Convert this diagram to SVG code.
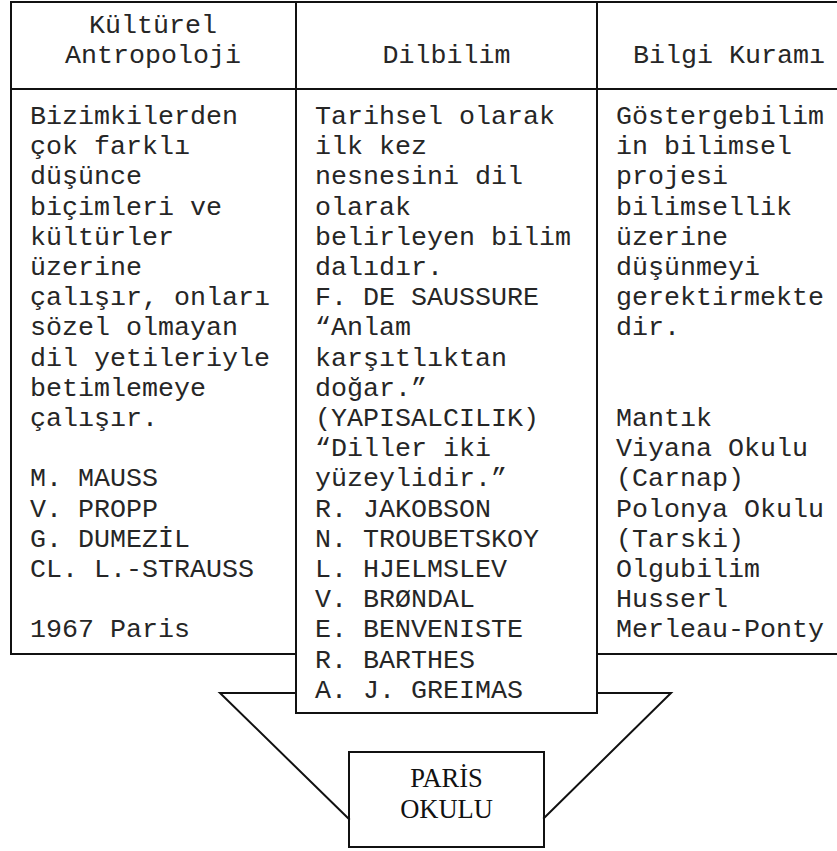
<svg xmlns="http://www.w3.org/2000/svg" width="837" height="851" viewBox="0 0 837 851">
<style>
.mono{font-family:"Liberation Mono","Courier New",monospace;font-size:26.67px;fill:#262626}
.serif{font-family:"Liberation Serif","Times New Roman",serif;font-size:26.5px;fill:#111}
.ln{stroke:#111;stroke-width:2;fill:none;stroke-linecap:square}
</style>
<rect width="837" height="851" fill="#fff"/>
<g id="connectors">
<polyline class="ln" points="296,693 220,693 349,819"/>
<polyline class="ln" points="597,693 671,693 544,818"/>
</g>
<g id="table-frame">
<line class="ln" x1="11" y1="2" x2="840" y2="2"/>
<line class="ln" x1="11" y1="2" x2="11" y2="654"/>
<line class="ln" x1="11" y1="89" x2="840" y2="89"/>
<line class="ln" x1="11" y1="654" x2="296" y2="654"/>
<line class="ln" x1="597" y1="654" x2="840" y2="654"/>
</g>
<g id="col-antropoloji">
<text class="mono" text-anchor="middle"><tspan x="153" y="33">Kültürel</tspan><tspan x="153" y="63">Antropoloji</tspan></text>
<text class="mono">
<tspan x="30" y="124">Bizimkilerden</tspan>
<tspan x="30" y="154.2">çok farklı</tspan>
<tspan x="30" y="184.4">düşünce</tspan>
<tspan x="30" y="214.6">biçimleri ve</tspan>
<tspan x="30" y="244.8">kültürler</tspan>
<tspan x="30" y="275">üzerine</tspan>
<tspan x="30" y="305.2">çalışır, onları</tspan>
<tspan x="30" y="335.4">sözel olmayan</tspan>
<tspan x="30" y="365.6">dil yetileriyle</tspan>
<tspan x="30" y="395.8">betimlemeye</tspan>
<tspan x="30" y="426">çalışır.</tspan>
<tspan x="30" y="486.4">M. MAUSS</tspan>
<tspan x="30" y="516.6">V. PROPP</tspan>
<tspan x="30" y="546.8">G. DUMEZİL</tspan>
<tspan x="30" y="577">CL. L.-STRAUSS</tspan>
<tspan x="30" y="637.4">1967 Paris</tspan>
</text>
</g>
<g id="col-dilbilim">
<rect class="ln" x="296" y="2" width="301" height="711" fill="#fff"/>
<line class="ln" x1="296" y1="89" x2="597" y2="89"/>
<text class="mono" text-anchor="middle" x="446.5" y="63">Dilbilim</text>
<text class="mono">
<tspan x="315" y="124">Tarihsel olarak</tspan>
<tspan x="315" y="154.2">ilk kez</tspan>
<tspan x="315" y="184.4">nesnesini dil</tspan>
<tspan x="315" y="214.6">olarak</tspan>
<tspan x="315" y="244.8">belirleyen bilim</tspan>
<tspan x="315" y="275">dalıdır.</tspan>
<tspan x="315" y="305.2">F. DE SAUSSURE</tspan>
<tspan x="315" y="335.4">“Anlam</tspan>
<tspan x="315" y="365.6">karşıtlıktan</tspan>
<tspan x="315" y="395.8">doğar.”</tspan>
<tspan x="315" y="426">(YAPISALCILIK)</tspan>
<tspan x="315" y="456.2">“Diller iki</tspan>
<tspan x="315" y="486.4">yüzeylidir.”</tspan>
<tspan x="315" y="516.6">R. JAKOBSON</tspan>
<tspan x="315" y="546.8">N. TROUBETSKOY</tspan>
<tspan x="315" y="577">L. HJELMSLEV</tspan>
<tspan x="315" y="607.2">V. BRØNDAL</tspan>
<tspan x="315" y="637.4">E. BENVENISTE</tspan>
<tspan x="315" y="667.6">R. BARTHES</tspan>
<tspan x="315" y="697.8">A. J. GREIMAS</tspan>
</text>
</g>
<g id="col-bilgi-kurami">
<text class="mono" text-anchor="middle" x="729" y="63">Bilgi Kuramı</text>
<text class="mono">
<tspan x="616" y="124">Göstergebilim</tspan>
<tspan x="616" y="154.2">in bilimsel</tspan>
<tspan x="616" y="184.4">projesi</tspan>
<tspan x="616" y="214.6">bilimsellik</tspan>
<tspan x="616" y="244.8">üzerine</tspan>
<tspan x="616" y="275">düşünmeyi</tspan>
<tspan x="616" y="305.2">gerektirmekte</tspan>
<tspan x="616" y="335.4">dir.</tspan>
<tspan x="616" y="426">Mantık</tspan>
<tspan x="616" y="456.2">Viyana Okulu</tspan>
<tspan x="616" y="486.4">(Carnap)</tspan>
<tspan x="616" y="516.6">Polonya Okulu</tspan>
<tspan x="616" y="546.8">(Tarski)</tspan>
<tspan x="616" y="577">Olgubilim</tspan>
<tspan x="616" y="607.2">Husserl</tspan>
<tspan x="616" y="637.4">Merleau-Ponty</tspan>
</text>
</g>
<g id="paris-okulu">
<rect class="ln" x="349" y="752" width="195" height="95" fill="#fff"/>
<text class="serif" text-anchor="middle"><tspan x="446.5" y="787">PARİS</tspan><tspan x="446.5" y="818">OKULU</tspan></text>
</g>
</svg>
